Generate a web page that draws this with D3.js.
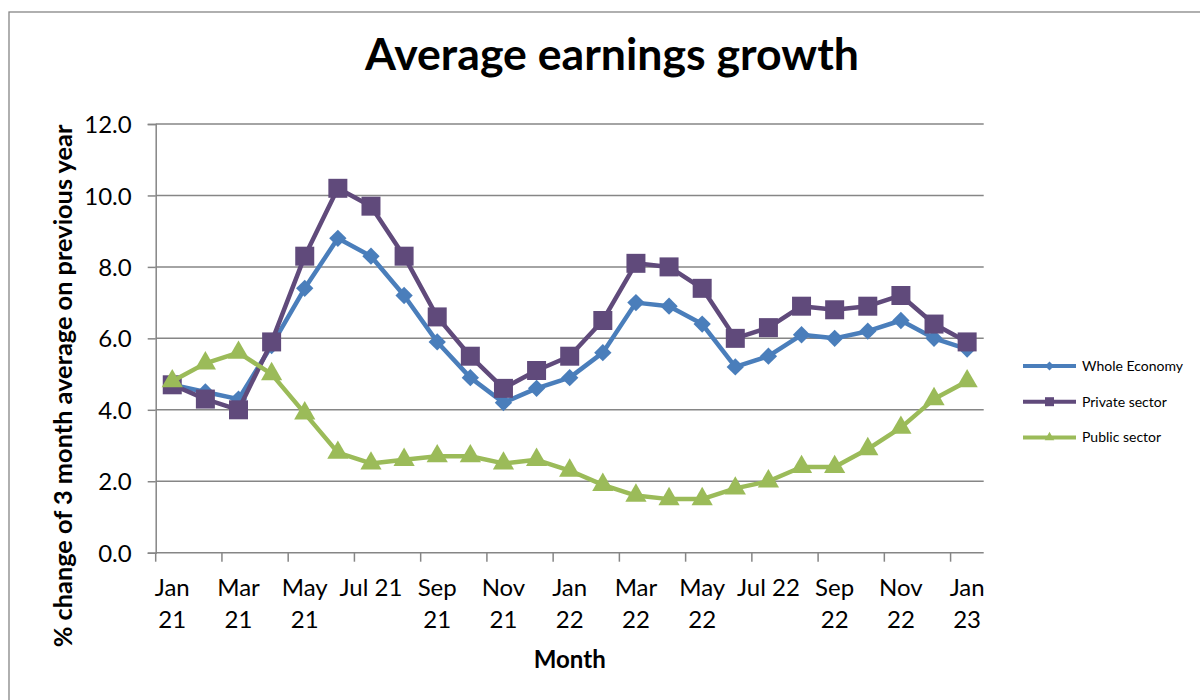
<!DOCTYPE html>
<html>
<head>
<meta charset="utf-8">
<script src="https://cdn.jsdelivr.net/npm/d3@7"></script>
<style>
  html, body { margin: 0; padding: 0; background: #fff; }
  svg { display: block; font-family: Lato, "Open Sans", sans-serif; }
</style>
</head>
<body>
<script>
// months on the x axis
const months = [
  "Jan 21", "Feb 21", "Mar 21", "Apr 21", "May 21", "Jun 21", "Jul 21", "Aug 21",
  "Sep 21", "Oct 21", "Nov 21", "Dec 21", "Jan 22", "Feb 22", "Mar 22", "Apr 22",
  "May 22", "Jun 22", "Jul 22", "Aug 22", "Sep 22", "Oct 22", "Nov 22", "Dec 22", "Jan 23"
];

// tick labels (every second month), split over lines like the original
const tickLabels = [
  ["Jan", "21"], ["Mar", "21"], ["May", "21"], ["Jul 21"], ["Sep", "21"], ["Nov", "21"],
  ["Jan", "22"], ["Mar", "22"], ["May", "22"], ["Jul 22"], ["Sep", "22"], ["Nov", "22"], ["Jan", "23"]
];

const yTicks = [0, 2, 4, 6, 8, 10, 12];

// series values
const wholeEconomy = [4.7, 4.5, 4.3, 5.8, 7.4, 8.8, 8.3, 7.2, 5.9, 4.9, 4.2, 4.6, 4.9, 5.6, 7.0, 6.9, 6.4, 5.2, 5.5, 6.1, 6.0, 6.2, 6.5, 6.0, 5.7];
const privateSector = [4.7, 4.3, 4.0, 5.9, 8.3, 10.2, 9.7, 8.3, 6.6, 5.5, 4.6, 5.1, 5.5, 6.5, 8.1, 8.0, 7.4, 6.0, 6.3, 6.9, 6.8, 6.9, 7.2, 6.4, 5.9];
const publicSector = [4.8, 5.3, 5.6, 5.0, 3.9, 2.8, 2.5, 2.6, 2.7, 2.7, 2.5, 2.6, 2.3, 1.9, 1.6, 1.5, 1.5, 1.8, 2.0, 2.4, 2.4, 2.9, 3.5, 4.3, 4.8];

const seriesNames = ["Whole Economy", "Private sector", "Public sector"];

// chart layout
const WIDTH = 1200, HEIGHT = 700;
const PLOT = { left: 155.7, right: 983.7, top: 124, bottom: 552.7 };
const GRID_COLOR = "#868686";

const series = [
  { name: seriesNames[0], values: wholeEconomy, color: "#4A7EBB", marker: "diamond", size: 150, legendSize: 40 },
  { name: seriesNames[1], values: privateSector, color: "#604A7B", marker: "square", size: 361, legendSize: 81 },
  { name: seriesNames[2], values: publicSector, color: "#9BBB59", marker: "triangle", size: 195, legendSize: 40 }
];

// path generator for the marker shapes
const markerPath = (type, size) => {
  if (type === "triangle") return d3.symbol(d3.symbolTriangle, size)();
  return d3.symbol(d3.symbolSquare, size)();
};
const markerRotate = type => type === "diamond" ? 45 : 0;

// scale font size so text spans the given width
const fitText = (sel, target) => {
  const node = sel.node();
  const size = parseFloat(sel.attr("font-size"));
  const len = node.getComputedTextLength();
  sel.attr("font-size", size * target / len);
};

const svg = d3.select("body").append("svg")
  .attr("width", WIDTH)
  .attr("height", HEIGHT);

// outer chart border (runs off the right/bottom edges)
svg.append("rect")
  .attr("x", 9).attr("y", 12)
  .attr("width", WIDTH).attr("height", HEIGHT)
  .attr("fill", "#fff")
  .attr("stroke", GRID_COLOR)
  .attr("stroke-width", 1.3);

const x = d3.scaleBand()
  .domain(months)
  .range([PLOT.left, PLOT.right])
  .padding(0);

const y = d3.scaleLinear()
  .domain([0, 12])
  .range([PLOT.bottom, PLOT.top]);

const cx = m => x(m) + x.bandwidth() / 2;

// horizontal gridlines
svg.append("g").selectAll("line")
  .data(yTicks.filter(t => t > 0))
  .enter().append("line")
  .attr("x1", PLOT.left).attr("x2", PLOT.right)
  .attr("y1", d => y(d)).attr("y2", d => y(d))
  .attr("stroke", GRID_COLOR)
  .attr("stroke-width", 1.5);

// y axis
const yAxis = svg.append("g")
  .attr("transform", `translate(${PLOT.left},0)`)
  .call(d3.axisLeft(y).tickValues(yTicks).tickFormat(d3.format(".1f")).tickSize(8).tickPadding(16));
yAxis.select(".domain").attr("stroke", GRID_COLOR).attr("stroke-width", 1.5);
yAxis.selectAll(".tick line").attr("stroke", GRID_COLOR).attr("stroke-width", 1.5);
yAxis.selectAll(".tick text")
  .attr("font-family", "Lato")
  .attr("font-size", 24)
  .attr("fill", "#000")
  .attr("dy", "0.36em");

// x axis: ticks at every second category boundary
const xAxisG = svg.append("g");
xAxisG.append("line")
  .attr("x1", PLOT.left).attr("x2", PLOT.right)
  .attr("y1", PLOT.bottom).attr("y2", PLOT.bottom)
  .attr("stroke", GRID_COLOR)
  .attr("stroke-width", 1.5);

const labelMonths = months.filter((m, i) => i % 2 === 0);

xAxisG.selectAll("line.tick")
  .data(labelMonths)
  .enter().append("line")
  .attr("class", "tick")
  .attr("x1", d => x(d)).attr("x2", d => x(d))
  .attr("y1", PLOT.bottom).attr("y2", PLOT.bottom + 9)
  .attr("stroke", GRID_COLOR)
  .attr("stroke-width", 1.5);

const xLabels = xAxisG.selectAll("text.label")
  .data(labelMonths)
  .enter().append("text")
  .attr("class", "label")
  .attr("text-anchor", "middle")
  .attr("font-size", 24)
  .attr("fill", "#000");

xLabels.selectAll("tspan")
  .data((d, i) => tickLabels[i].map(t => ({ t, m: d })))
  .enter().append("tspan")
  .attr("x", d => cx(d.m))
  .attr("y", (d, j) => 596 + j * 32)
  .text(d => d.t);

// lines and markers
const line = d3.line()
  .x((d, i) => cx(months[i]))
  .y(d => y(d));

series.forEach(s => {
  svg.append("path")
    .datum(s.values)
    .attr("d", line)
    .attr("fill", "none")
    .attr("stroke", s.color)
    .attr("stroke-width", 4.5)
    .attr("stroke-linejoin", "round");

  svg.append("g").selectAll("path")
    .data(s.values)
    .enter().append("path")
    .attr("d", markerPath(s.marker, s.size))
    .attr("transform", (d, i) => `translate(${cx(months[i])},${y(d)}) rotate(${markerRotate(s.marker)})`)
    .attr("fill", s.color);
});

// title
const title = svg.append("text")
  .attr("x", 612).attr("y", 70)
  .attr("text-anchor", "middle")
  .attr("font-weight", "bold")
  .attr("font-size", 38)
  .text("Average earnings growth");
fitText(title, 494);

// y axis title
const yTitle = svg.append("text")
  .attr("transform", "translate(72,386) rotate(-90)")
  .attr("text-anchor", "middle")
  .attr("font-weight", "bold")
  .attr("font-size", 21)
  .text("% change of 3 month average on previous year");
fitText(yTitle, 523);

// x axis title
const xTitle = svg.append("text")
  .attr("x", (PLOT.left + PLOT.right) / 2).attr("y", 668)
  .attr("text-anchor", "middle")
  .attr("font-weight", "bold")
  .attr("font-size", 22)
  .text("Month");
fitText(xTitle, 72);

// legend
const legend = svg.append("g").attr("transform", "translate(1023,366)");
const rows = legend.selectAll("g")
  .data(series)
  .enter().append("g")
  .attr("transform", (d, i) => `translate(0,${i * 35.7})`);

rows.append("line")
  .attr("x1", 0).attr("x2", 53)
  .attr("stroke", d => d.color)
  .attr("stroke-width", 4);

rows.append("path")
  .attr("d", d => markerPath(d.marker, d.legendSize))
  .attr("transform", d => `translate(26.5,0) rotate(${markerRotate(d.marker)})`)
  .attr("fill", d => d.color);

rows.append("text")
  .attr("x", 59)
  .attr("dy", "0.35em")
  .attr("font-size", 14)
  .text(d => d.name);
</script>
</body>
</html>
